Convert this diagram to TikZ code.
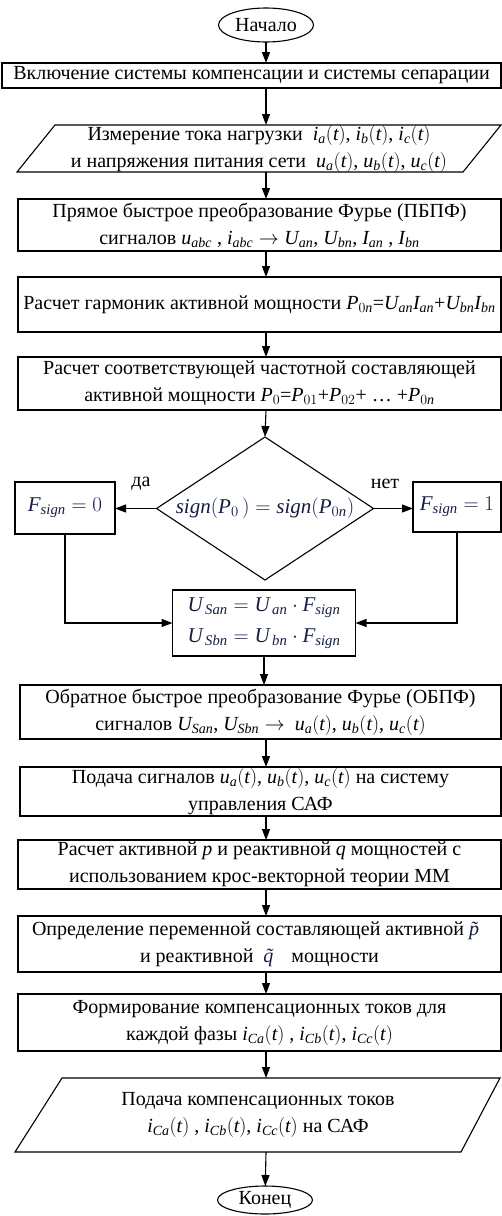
\RequirePackage{fix-cm}
\documentclass[tikz,border=0pt]{standalone}
\usepackage{fontspec}
\setmainfont{Liberation Serif}
\DeclareSymbolFont{letters}{TU}{\rmdefault}{m}{it}
\DeclareSymbolFont{operators}{TU}{\rmdefault}{m}{n}
\usetikzlibrary{arrows.meta,shapes.geometric}
\definecolor{eqnavy}{RGB}{20,28,66}

\begin{document}
\begin{tikzpicture}[x=1pt,y=1pt,yscale=-1,xscale=1,
  every node/.style={font=\fontsize{20}{27}\selectfont},
  block/.style={draw,line width=1.1pt,align=center,inner sep=0pt,outer sep=0pt},
  term/.style={ellipse,draw,line width=1.1pt,inner sep=0pt,outer sep=0pt},
  slot/.style={align=center,inner sep=0pt,outer sep=0pt},
  flow/.style={line width=1.1pt,-{Triangle[length=11pt,width=8pt]}},
  eq/.style={text=eqnavy,font=\fontsize{21}{31}\selectfont}]
\useasboundingbox (0,0) rectangle (502,1216);

%Shape: Ellipse
\draw (266,25) node [term,minimum width=95pt,minimum height=34pt] (start) {Начало};
%Shape: Rectangle
\draw (251.5,75.5) node [block,minimum width=499pt,minimum height=25pt] (b1) {Включение системы компенсации и системы сепарации};
%Shape: Parallelogram
\draw (259,148.5) node [slot,minimum width=484pt,minimum height=47pt] (io1) {Измерение тока нагрузки \ $i_a(t)$, $i_b(t)$, $i_c(t)$\\и напряжения питания сети \ $u_a(t)$, $u_b(t)$, $u_c(t)$};
\draw [line width=1.1pt] ([xshift=38pt]io1.north west) -- (io1.north east) -- ([xshift=-38pt]io1.south east) -- (io1.south west) -- cycle;
%Shape: Rectangle
\draw (259.5,225) node [block,minimum width=483pt,minimum height=52pt] (b3) {Прямое быстрое преобразование Фурье (ПБПФ)\\сигналов $u_{abc}$ , $i_{abc}\rightarrow U_{an}$, $U_{bn}$, $I_{an}$ , $I_{bn}$};
%Shape: Rectangle
\draw (259.5,304.5) node [block,minimum width=483pt,minimum height=55pt] (b4) {Расчет гармоник активной мощности $P_{0n}$=$U_{an}I_{an}$+$U_{bn}I_{bn}$};
%Shape: Rectangle
\draw (259.5,383.5) node [block,minimum width=483pt,minimum height=53pt] (b5) {Расчет соответствующей частотной составляющей\\активной мощности $P_0$=$P_{01}$+$P_{02}$+ \ldots\ +$P_{0n}$};
%Shape: Diamond
\draw (265,508.5) node [slot,eq,minimum width=217pt,minimum height=143pt] (dec) {$sign\bigl(P_0\,\bigr) = sign\bigl(P_{0n}\bigr)$};
\draw [line width=1.1pt] (dec.north) -- (dec.east) -- (dec.south) -- (dec.west) -- cycle;
%Shape: Rectangle
\draw (65,508) node [block,eq,minimum width=100pt,minimum height=52pt] (f0) {$F_{sign} = 0$};
\draw (457,507) node [block,eq,minimum width=88pt,minimum height=50pt] (f1) {$F_{sign} =1$};
% Text Node
\draw (141,484) node [slot] (yes) {да};
% Text Node
\draw (385,484) node [slot] (no) {нет};
%Shape: Rectangle
\draw (264,623) node [block,eq,minimum width=183pt,minimum height=66pt] (mid) {$U_{\,San} = U_{\,an}\cdot F_{sign}$\\$U_{\,Sbn} = U_{\,bn}\cdot F_{sign}$};
%Shape: Rectangle
\draw (260.5,712) node [block,minimum width=481pt,minimum height=54pt] (b6) {Обратное быстрое преобразование Фурье (ОБПФ)\\сигналов $U_{San}$, $U_{Sbn}\rightarrow$ \ $u_a(t)$, $u_b(t)$, $u_c(t)$};
%Shape: Rectangle
\draw (260.5,791.5) node [block,minimum width=481pt,minimum height=49pt] (b7) {Подача сигналов $u_a(t)$, $u_b(t)$, $u_c(t)$ на систему\\управления САФ};
%Shape: Rectangle
\draw (259.5,864.5) node [block,minimum width=483pt,minimum height=49pt] (b8) {Расчет активной $p$ и реактивной $q$ мощностей с\\использованием крос-векторной теории ММ};
%Shape: Rectangle
\draw (259.5,944) node [block,minimum width=483pt,minimum height=56pt] (b9) {Определение переменной составляющей активной \textcolor{eqnavy}{\textit{\~{p}}}\\и реактивной \ \textcolor{eqnavy}{\textit{\~{q}}} \ мощности};
%Shape: Rectangle
\draw (259.5,1022.5) node [block,minimum width=483pt,minimum height=57pt] (b10) {Формирование компенсационных токов для\\каждой фазы $i_{Ca}(t)$ , $i_{Cb}(t)$, $i_{Cc}(t)$};
%Shape: Parallelogram
\draw (258,1115) node [slot,minimum width=486pt,minimum height=74pt] (io2) {Подача компенсационных токов\\$i_{Ca}(t)$ , $i_{Cb}(t)$, $i_{Cc}(t)$ на САФ};
\draw [line width=1.1pt] ([xshift=47pt]io2.north west) -- ([xshift=-1pt]io2.north east) -- ([xshift=-40pt]io2.south east) -- (io2.south west) -- cycle;
%Shape: Ellipse
\draw (265,1200) node [term,minimum width=95pt,minimum height=28pt] (end) {Конец};

%Straight Lines
\draw [flow] (start) -- (start |- b1.north);
\draw [flow] (b1.south -| start) -- (io1.north -| start);
\draw [flow] (io1.south -| start) -- (b3.north -| start);
\draw [flow] (b3.south -| start) -- (b4.north -| start);
\draw [flow] (b4.south -| start) -- (b5.north -| start);
\draw [flow] (b5.south -| start) -- (dec.north);
\draw [flow] (dec.west) -- (dec.west -| f0.east);
\draw [flow] (dec.east) -- (dec.east -| f1.west);
\draw [flow] (f0.south) |- (mid.west);
\draw [flow] (f1.south) |- (mid.east);
\draw [flow] (mid.south) -- (b6.north -| mid);
\draw [flow] (b6.south -| start) -- (b7.north -| start);
\draw [flow] (b7.south -| start) -- (b8.north -| start);
\draw [flow] (b8.south -| start) -- (b9.north -| start);
\draw [flow] (b9.south -| start) -- (b10.north -| start);
\draw [flow] (b10.south -| start) -- (io2.north -| start);
\draw [flow] (io2.south -| start) -- (end);

\end{tikzpicture}
\end{document}
